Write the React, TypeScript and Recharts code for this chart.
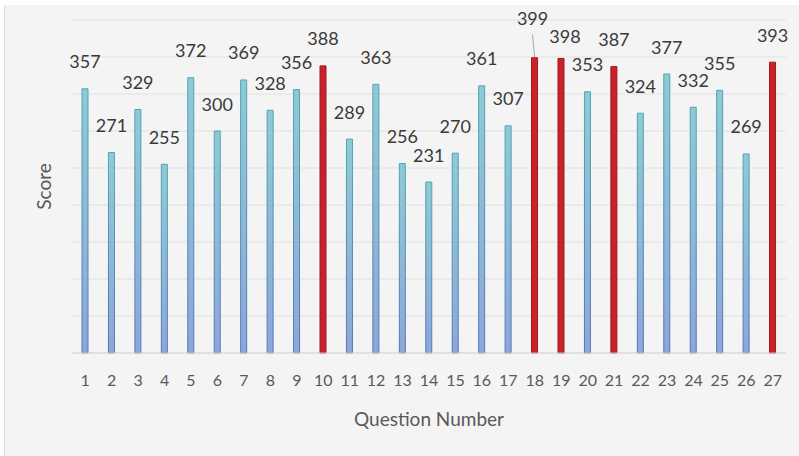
import { BarChart, Bar, XAxis, YAxis, CartesianGrid, LabelList, Cell } from 'recharts'

const questions = ['1', '2', '3', '4', '5', '6', '7', '8', '9', '10', '11', '12', '13', '14', '15', '16', '17', '18', '19', '20', '21', '22', '23', '24', '25', '26', '27']
const scores = [357, 271, 329, 255, 372, 300, 369, 328, 356, 388, 289, 363, 256, 231, 270, 361, 307, 399, 398, 353, 387, 324, 377, 332, 355, 269, 393]
const highlighted = ['10', '18', '19', '21', '27']
const yTicks = [0, 50, 100, 150, 200, 250, 300, 350, 400, 450]

const data = questions.map((q, i) => ({ question: q, score: scores[i] }))

// labels Excel had moved by hand
const labelNudge: Record<string, { dx: number; dy: number; leader?: boolean }> = {
  '18': { dx: -2, dy: -12, leader: true },
  '19': { dx: 4, dy: 5 },
}

const renderLabel = (props: any) => {
  const { x, y, width, value, index } = props
  const q = questions[index]
  const nudge = labelNudge[q] || { dx: 0, dy: 0 }
  const cx = Number(x) + Number(width) / 2
  const top = Number(y)
  const lx = cx + nudge.dx
  const ly = top - 20.5 + nudge.dy
  return (
    <g>
      {nudge.leader && (
        <line x1={lx} y1={ly + 9} x2={cx} y2={top - 1} stroke="#a6a6a6" strokeWidth={1} />
      )}
      <text x={lx} y={ly} textAnchor="middle" fontSize={18} fontFamily="Lato" fill="#3a3a3a">
        {value}
      </text>
    </g>
  )
}

// y axis has gridlines but no tick labels
const noTick = () => <g />

export default function App() {
  return (
    <div style={{ position: 'absolute', left: 0, top: 0, width: 799, height: 456, background: '#ffffff' }}>
      <div
        style={{
          position: 'absolute',
          left: 4,
          top: 5,
          width: 795,
          height: 451,
          background: '#f4f4f4',
          borderLeft: '1px solid #dcdcdc',
        }}
      >
        <BarChart
          width={794}
          height={451}
          data={data}
          margin={{ top: 15, right: 13, left: 0, bottom: 0 }}
          barSize={6}
        >
          <defs>
            <linearGradient id="fillBlue" x1="0" y1="0" x2="0" y2="1">
              <stop offset="0%" stopColor="#8fcad3" />
              <stop offset="100%" stopColor="#8ea6d8" />
            </linearGradient>
            <linearGradient id="strokeBlue" x1="0" y1="0" x2="0" y2="1">
              <stop offset="0%" stopColor="#4ba6b6" />
              <stop offset="100%" stopColor="#5078bd" />
            </linearGradient>
          </defs>
          <CartesianGrid vertical={false} stroke="#e0e0e0" strokeWidth={1} />
          <XAxis
            dataKey="question"
            height={103}
            tickLine={false}
            axisLine={{ stroke: '#d6d6d6' }}
            tickMargin={16}
            tick={{ fontSize: 16, fontFamily: 'Lato', fill: '#595959' }}
            interval={0}
            label={{
              value: 'Question Number',
              position: 'insideBottom',
              offset: 30,
              fontSize: 19,
              fontFamily: 'Lato',
              fill: '#595959',
            }}
          />
          <YAxis
            width={67}
            domain={[0, 450]}
            ticks={yTicks}
            tick={noTick}
            tickLine={false}
            axisLine={false}
            label={{
              value: 'Score',
              angle: -90,
              position: 'center',
              dx: 6,
              fontSize: 19,
              fontFamily: 'Lato',
              fill: '#595959',
            }}
          />
          <Bar dataKey="score" isAnimationActive={false} strokeWidth={1}>
            {data.map((d) => {
              const red = highlighted.includes(d.question)
              return (
                <Cell
                  key={d.question}
                  fill={red ? '#c8232a' : 'url(#fillBlue)'}
                  stroke={red ? '#a3161c' : 'url(#strokeBlue)'}
                />
              )
            })}
            <LabelList dataKey="score" content={renderLabel} />
          </Bar>
        </BarChart>
      </div>
    </div>
  )
}
